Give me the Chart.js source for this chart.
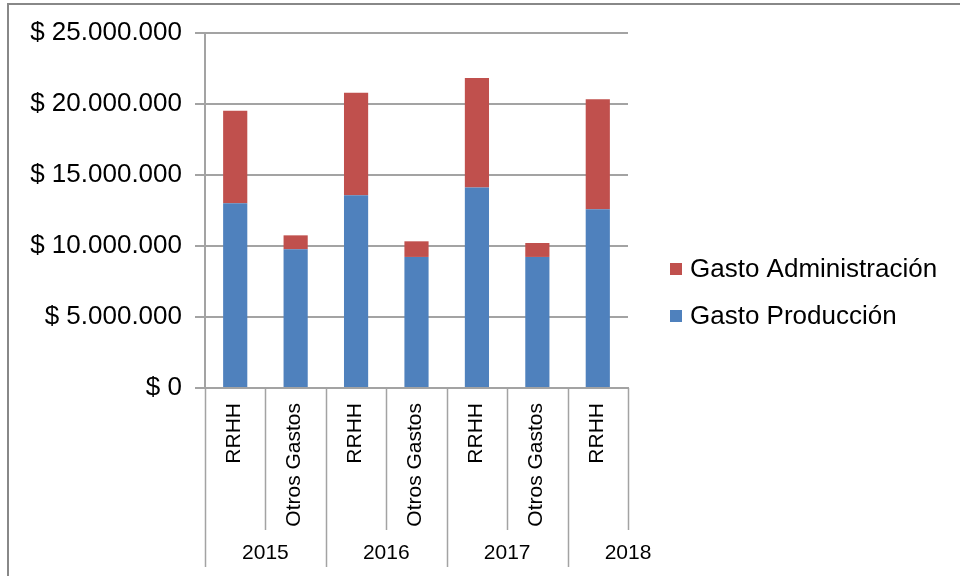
<!DOCTYPE html>
<html>
<head>
<meta charset="utf-8">
<script src="https://cdn.jsdelivr.net/npm/chart.js@4.4.1/dist/chart.umd.min.js"></script>
<style>
	html, body { margin: 0; padding: 0; background: #fff; }
	#wrap { position: relative; width: 960px; height: 576px; }
</style>
</head>
<body>
<div id="wrap"><canvas id="chart" width="960" height="576"></canvas></div>
<script>
	
	/*
	 * Chart data.
	 *
	 */
	const categories = [ "RRHH", "Otros Gastos", "RRHH", "Otros Gastos", "RRHH", "Otros Gastos", "RRHH" ];
	const years = [ "2015", "2016", "2017", "2018" ];
	const yearStarts = [ 0, 2, 4, 6 ];
	const gastoProduccion = [ 13010000, 9770000, 13570000, 9230000, 14120000, 9230000, 12580000 ];
	const gastoAdministracion = [ 6520000, 980000, 7230000, 1100000, 7710000, 980000, 7750000 ];
	const yTicks = [ 0, 5000000, 10000000, 15000000, 20000000, 25000000 ];
	
	const FONT = "'Liberation Sans', Arial, sans-serif";
	const GRID = "#a3a3a3";
	
	/*
	 * Peso format with dot thousands.
	 *
	 * @params Number $value
	 *
	 * @return String
	 */
	const peso = value => "$ " + String( value ).replace( /\B(?=(\d{3})+(?!\d))/g, "." );
	
	/*
	 * Draws the frame, two level category axis and legend.
	 *
	 */
	const excelLook = {
		id: "excelLook",
		beforeDraw: function( chart )
		{
			const ctx = chart.ctx;
			ctx.save();
			ctx.strokeStyle = "#888888";
			ctx.lineWidth = 2;
			ctx.beginPath();
			ctx.moveTo( 8, 576 );
			ctx.lineTo( 8, 4 );
			ctx.lineTo( 960, 4 );
			ctx.stroke();
			ctx.restore();
		},
		afterDraw: function( chart )
		{
			const ctx = chart.ctx;
			const x = chart.scales.x;
			const area = chart.chartArea;
			const step = x.getPixelForValue( 1 ) - x.getPixelForValue( 0 );
			
			ctx.save();
			ctx.strokeStyle = GRID;
			ctx.lineWidth = 1.5;
			
			// Separators under the axis.
			for( let i = 0; i <= categories.length; i++ )
			{
				const px = Math.round( x.getPixelForValue( 0 ) - step / 2 + i * step ) + 0.5;
				const isYear = yearStarts.indexOf( i ) >= 0;
				ctx.beginPath();
				ctx.moveTo( px, area.bottom );
				ctx.lineTo( px, isYear ? 567 : 530 );
				ctx.stroke();
			}
			
			// Category labels, read bottom to top.
			ctx.fillStyle = "#000";
			ctx.font = "21px " + FONT;
			ctx.textAlign = "right";
			ctx.textBaseline = "middle";
			categories.forEach( ( label, i ) =>
			{
				ctx.save();
				ctx.translate( x.getPixelForValue( i ) - 1, area.bottom + 15 );
				ctx.rotate( -Math.PI / 2 );
				ctx.fillText( label, 0, 0 );
				ctx.restore();
			});
			
			// Year labels.
			ctx.textAlign = "center";
			years.forEach( ( label, i ) =>
			{
				ctx.fillText( label, x.getPixelForValue( yearStarts[i] ) + step / 2, 553 );
			});
			
			// Legend, top series first.
			const sets = chart.data.datasets.slice().reverse();
			ctx.font = "26px " + FONT;
			ctx.textAlign = "left";
			sets.forEach( ( set, i ) =>
			{
				const cy = 269 + i * 47;
				ctx.fillStyle = set.backgroundColor;
				ctx.fillRect( 670, cy - 6, 12, 12 );
				ctx.fillStyle = "#000";
				ctx.fillText( set.label, 690, cy + 1 );
			});
			ctx.restore();
		}
	};
	
	new Chart( document.getElementById( "chart" ), {
		type: "bar",
		data: {
			labels: categories,
			datasets: [
				{
					label: "Gasto Producción",
					data: gastoProduccion,
					backgroundColor: "#4f81bd"
				},
				{
					label: "Gasto Administración",
					data: gastoAdministracion,
					backgroundColor: "#c0504d"
				}
			]
		},
		options: {
			responsive: false,
			animation: false,
			devicePixelRatio: 1,
			layout: {
				padding: { left: 0, top: 33, right: 332, bottom: 0 }
			},
			datasets: {
				bar: {
					categoryPercentage: 1,
					barPercentage: 0.4
				}
			},
			plugins: {
				legend: { display: false },
				title: { display: false },
				tooltip: { enabled: false }
			},
			scales: {
				x: {
					stacked: true,
					grid: { display: false },
					border: { color: GRID, width: 2 },
					ticks: { display: false },
					afterFit: scale => { scale.height = 188; }
				},
				y: {
					stacked: true,
					min: 0,
					max: 25000000,
					afterBuildTicks: scale => { scale.ticks = yTicks.map( v => ({ value: v }) ); },
					grid: { color: GRID, lineWidth: 2, tickLength: 10 },
					border: { color: GRID, width: 2 },
					ticks: {
						padding: 13,
						color: "#000",
						font: { family: FONT, size: 26 },
						callback: value => peso( value )
					},
					afterFit: scale => { scale.width = 205; }
				}
			}
		},
		plugins: [ excelLook ]
	});
	
</script>
</body>
</html>
